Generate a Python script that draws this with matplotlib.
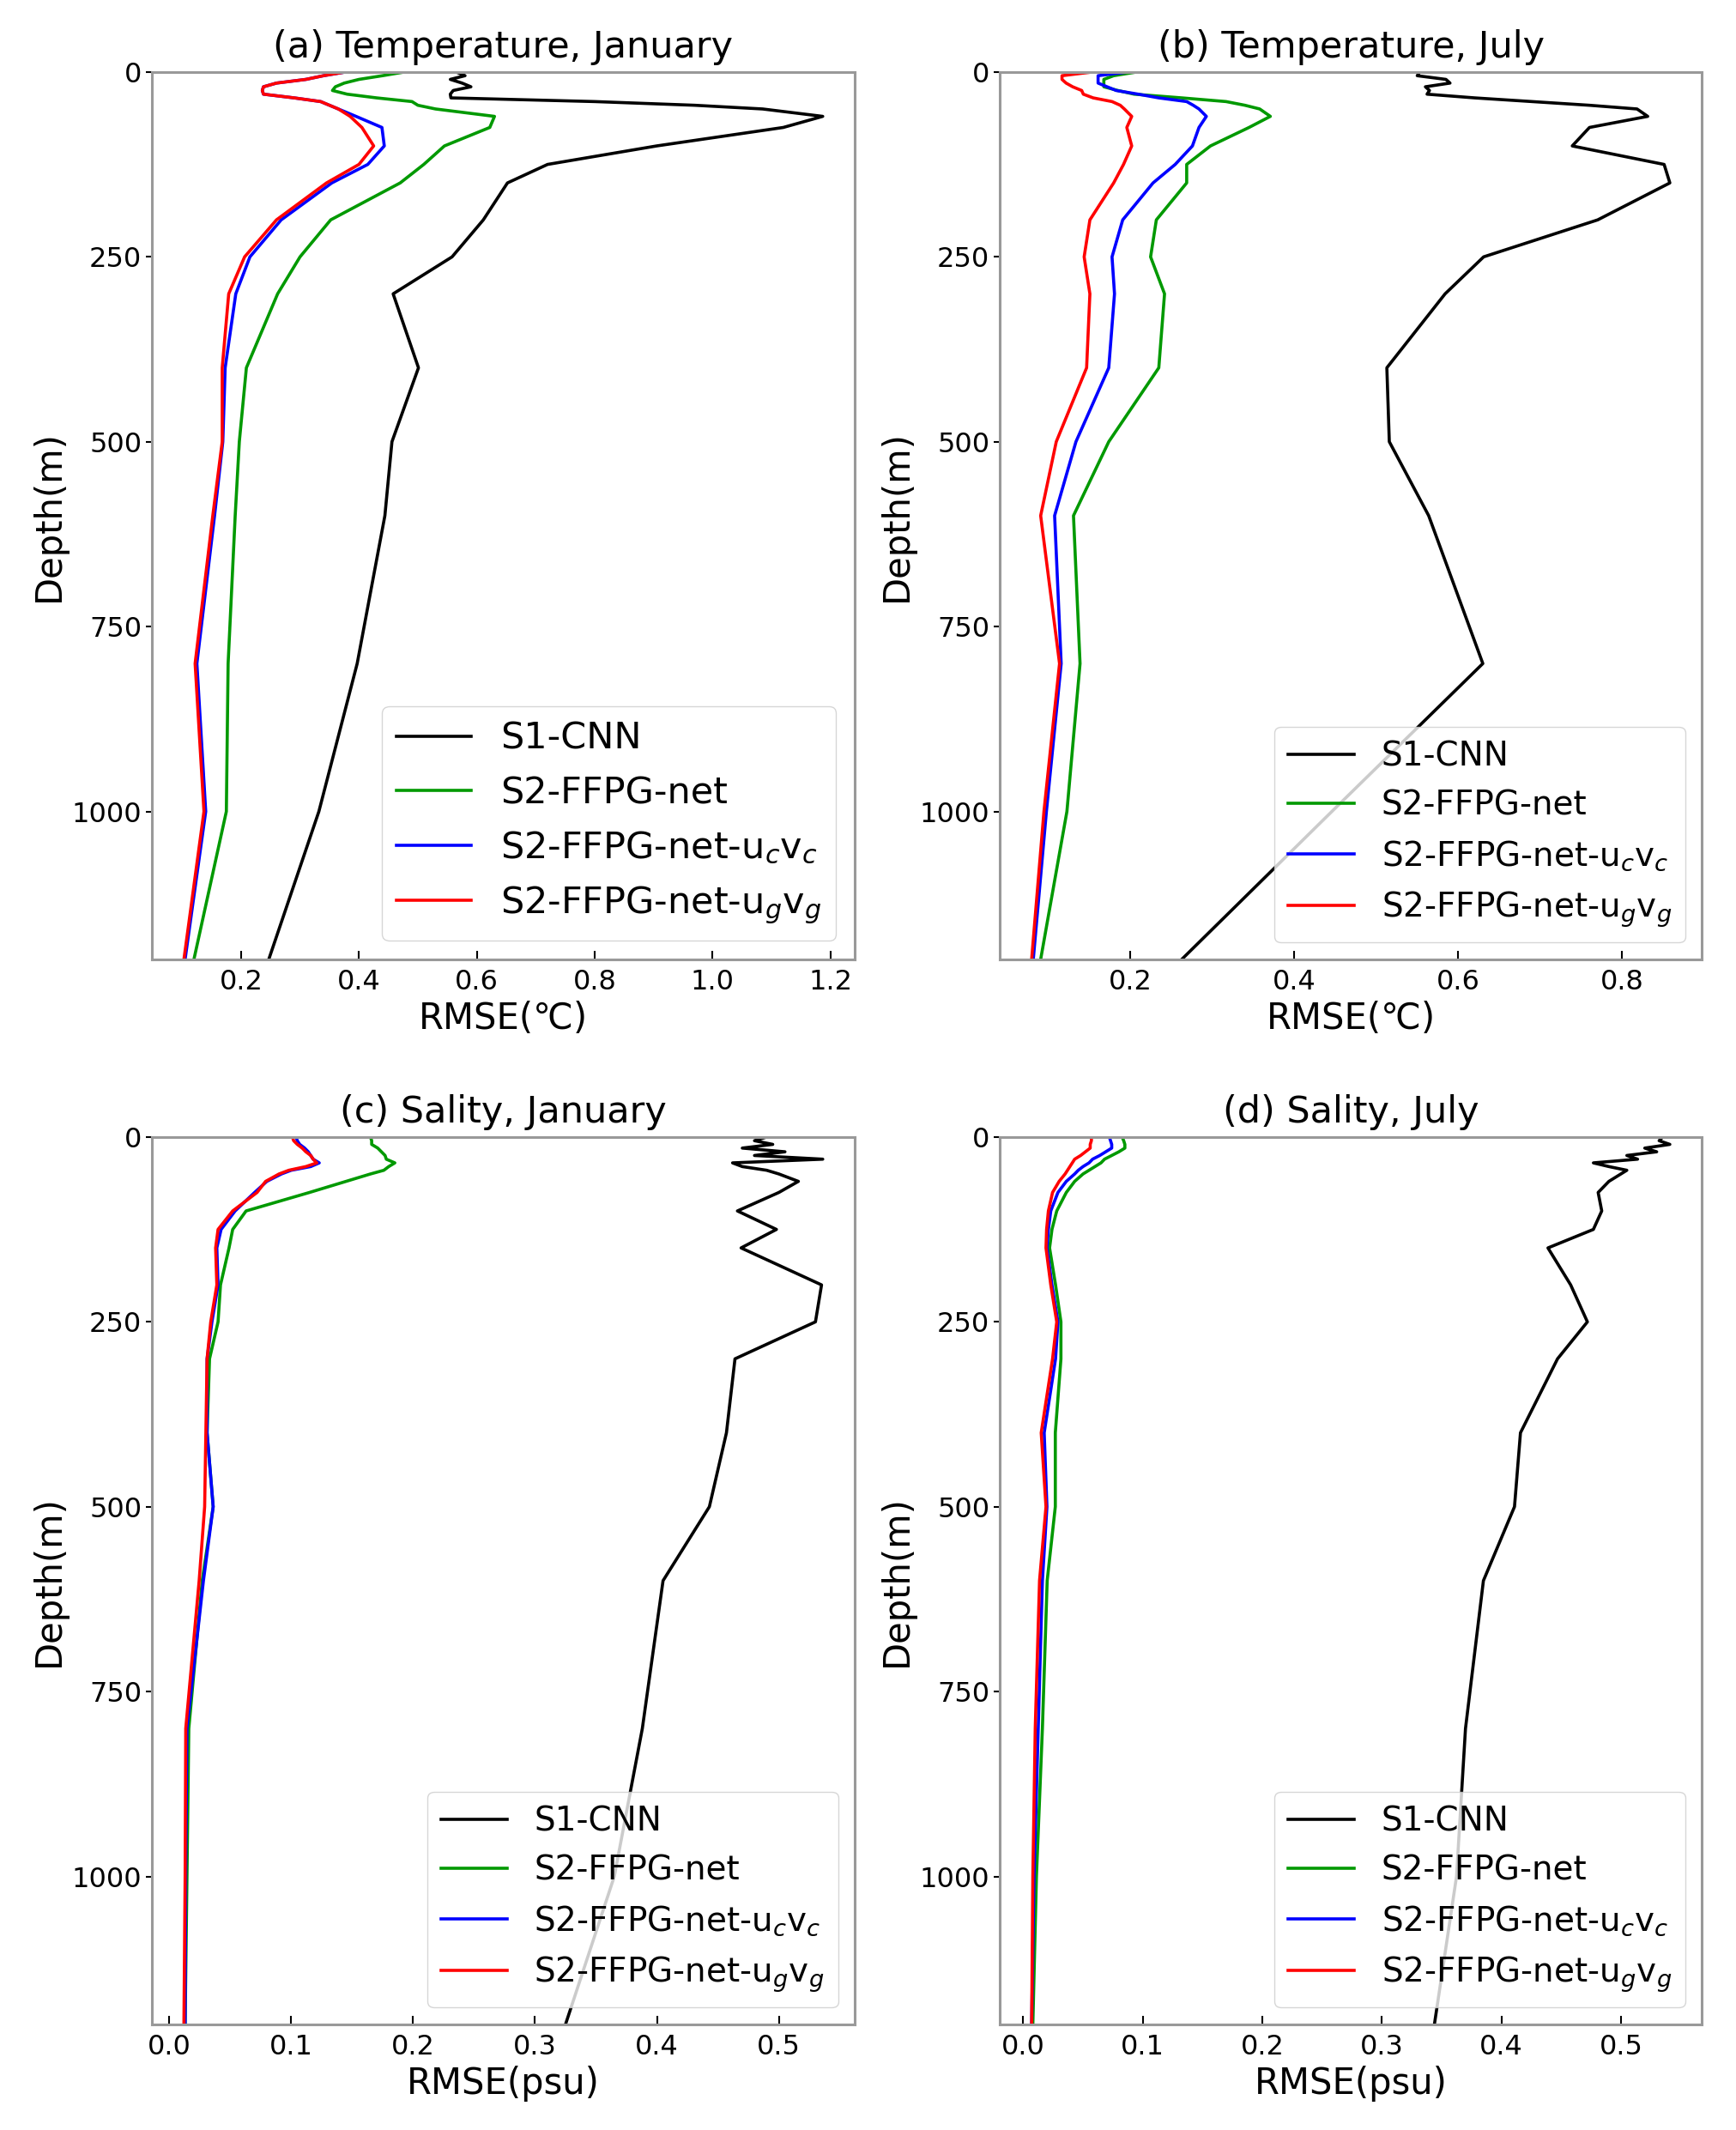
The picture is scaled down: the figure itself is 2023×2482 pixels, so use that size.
import matplotlib
matplotlib.use("Agg")
import matplotlib.pyplot as plt

# depth levels (m)
depth = [0, 5, 10, 15, 20, 25, 30, 35, 40, 45, 50, 60, 75, 100, 125, 150,
         200, 250, 300, 400, 500, 600, 800, 1000, 1200]

# (a) temperature, January
black_a = [0.565, 0.58, 0.555, 0.575, 0.59, 0.56, 0.555, 0.556, 0.80, 0.97, 1.085, 1.187, 1.12,
           0.905, 0.72, 0.652, 0.611, 0.558, 0.458, 0.501, 0.456, 0.444, 0.397, 0.332, 0.247]
green_a = [0.477, 0.44, 0.40, 0.375, 0.36, 0.355, 0.38, 0.43, 0.49, 0.50, 0.53, 0.63, 0.622,
           0.545, 0.51, 0.47, 0.352, 0.30, 0.262, 0.209, 0.197, 0.19, 0.178, 0.175, 0.12]
blue_a = [0.377, 0.34, 0.31, 0.26, 0.238, 0.236, 0.238, 0.29, 0.335, 0.35, 0.365, 0.395, 0.439,
          0.443, 0.415, 0.354, 0.268, 0.215, 0.191, 0.173, 0.169, 0.155, 0.125, 0.14, 0.105]
red_a = [0.377, 0.34, 0.31, 0.26, 0.238, 0.236, 0.238, 0.29, 0.335, 0.35, 0.365, 0.385, 0.405,
         0.425, 0.40, 0.345, 0.26, 0.206, 0.179, 0.168, 0.168, 0.152, 0.122, 0.137, 0.103]

# (b) temperature, July
black_b = [0.553, 0.55, 0.585, 0.59, 0.56, 0.565, 0.562, 0.62, 0.69, 0.76, 0.818, 0.831, 0.76,
           0.739, 0.851, 0.858, 0.770, 0.631, 0.584, 0.513, 0.516, 0.564, 0.630, 0.446, 0.263]
green_b = [0.208, 0.18, 0.168, 0.168, 0.168, 0.185, 0.205, 0.263, 0.317, 0.34, 0.358, 0.371, 0.345,
           0.298, 0.269, 0.269, 0.232, 0.225, 0.242, 0.235, 0.174, 0.131, 0.139, 0.123, 0.091]
blue_b = [0.198, 0.161, 0.161, 0.161, 0.172, 0.183, 0.21, 0.235, 0.269, 0.277, 0.284, 0.293, 0.284,
          0.276, 0.255, 0.228, 0.191, 0.178, 0.181, 0.174, 0.134, 0.108, 0.116, 0.098, 0.082]
red_b = [0.154, 0.117, 0.117, 0.122, 0.13, 0.141, 0.143, 0.155, 0.178, 0.188, 0.193, 0.202, 0.196,
         0.202, 0.192, 0.18, 0.151, 0.144, 0.151, 0.147, 0.11, 0.091, 0.114, 0.095, 0.08]

# (c) salinity, January
black_c = [0.49, 0.48, 0.495, 0.47, 0.505, 0.48, 0.536, 0.462, 0.47, 0.49, 0.50, 0.516, 0.50,
           0.466, 0.498, 0.469, 0.535, 0.530, 0.464, 0.457, 0.443, 0.405, 0.388, 0.365, 0.325]
green_c = [0.165, 0.166, 0.166, 0.171, 0.174, 0.177, 0.178, 0.185, 0.18, 0.176, 0.165, 0.145, 0.115,
           0.063, 0.052, 0.049, 0.042, 0.040, 0.033, 0.031, 0.036, 0.027, 0.016, 0.0145, 0.013]
blue_c = [0.104, 0.105, 0.107, 0.111, 0.114, 0.116, 0.118, 0.123, 0.116, 0.10, 0.092, 0.08, 0.07,
          0.054, 0.0425, 0.039, 0.040, 0.035, 0.031, 0.031, 0.036, 0.028, 0.0145, 0.0135, 0.013]
red_c = [0.101, 0.102, 0.105, 0.109, 0.112, 0.116, 0.118, 0.121, 0.112, 0.098, 0.090, 0.079, 0.072,
         0.052, 0.040, 0.038, 0.039, 0.034, 0.031, 0.030, 0.029, 0.0245, 0.0135, 0.013, 0.012]

# (d) salinity, July
black_d = [0.535, 0.532, 0.541, 0.52, 0.53, 0.505, 0.514, 0.477, 0.49, 0.505, 0.50, 0.49, 0.481,
           0.484, 0.477, 0.439, 0.458, 0.472, 0.447, 0.416, 0.411, 0.385, 0.370, 0.3625, 0.344]
green_d = [0.0827, 0.084, 0.085, 0.085, 0.08, 0.074, 0.068, 0.065, 0.06, 0.055, 0.050, 0.043, 0.036,
           0.028, 0.024, 0.022, 0.027, 0.0315, 0.0315, 0.0268, 0.0268, 0.020, 0.016, 0.011, 0.008]
blue_d = [0.072, 0.073, 0.074, 0.074, 0.069, 0.064, 0.058, 0.055, 0.05, 0.046, 0.043, 0.036, 0.029,
          0.023, 0.021, 0.0198, 0.024, 0.029, 0.027, 0.0175, 0.0198, 0.016, 0.0125, 0.009, 0.007]
red_d = [0.057, 0.057, 0.056, 0.056, 0.052, 0.048, 0.043, 0.041, 0.039, 0.037, 0.035, 0.030, 0.0245,
         0.021, 0.0195, 0.019, 0.023, 0.028, 0.0245, 0.015, 0.019, 0.0136, 0.010, 0.008, 0.007]

labels = ["S1-CNN", "S2-FFPG-net", "S2-FFPG-net-u$_c$v$_c$", "S2-FFPG-net-u$_g$v$_g$"]
colors = ["black", "#009900", "blue", "red"]

panels = [
    ("(a) Temperature, January", "RMSE(\u2103)", [black_a, green_a, blue_a, red_a], 31),
    ("(b) Temperature, July", "RMSE(\u2103)", [black_b, green_b, blue_b, red_b], 28),
    ("(c) Sality, January", "RMSE(psu)", [black_c, green_c, blue_c, red_c], 28),
    ("(d) Sality, July", "RMSE(psu)", [black_d, green_d, blue_d, red_d], 28),
]

# axes boxes in figure fractions [left, bottom, width, height]
boxes = [
    [0.0875, 0.5496, 0.4046, 0.4166],
    [0.5756, 0.5496, 0.4042, 0.4166],
    [0.0875, 0.0496, 0.4046, 0.4166],
    [0.5756, 0.0496, 0.4042, 0.4166],
]

plt.rcParams["font.family"] = "DejaVu Sans"

fig = plt.figure(figsize=(20.24, 24.82), dpi=100)

for (title, xlabel, series, legsize), box in zip(panels, boxes):
    ax = fig.add_axes(box)
    for vals, lab, col in zip(series, labels, colors):
        ax.plot(vals, depth, color=col, lw=2.6, label=lab)
    ax.set_ylim(1200, 0)
    ax.set_yticks([0, 250, 500, 750, 1000])
    ax.set_title(title, fontsize=31, pad=12)
    ax.set_xlabel(xlabel, fontsize=30, labelpad=4)
    ax.set_ylabel("Depth(m)", fontsize=30)
    ax.tick_params(axis="x", direction="in", length=7, width=1.5, labelsize=23, pad=8)
    ax.tick_params(axis="y", direction="out", length=5, width=1.5, labelsize=23)
    for sp in ax.spines.values():
        sp.set_color("#999999")
        sp.set_linewidth(2.2)
    ax.legend(loc="lower right", fontsize=legsize)

fig.savefig("out.png", dpi=100)
